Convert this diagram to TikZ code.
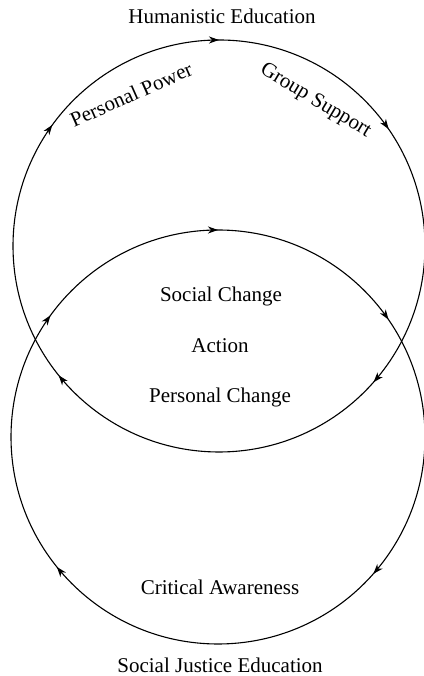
\documentclass[tikz,border=0pt]{standalone}
\usepackage{fontspec}
\setmainfont{Liberation Serif}
\usetikzlibrary{arrows.meta,decorations.markings}
\begin{document}
\begin{tikzpicture}[x=1pt,y=1pt,
  cyctip/.tip={Stealth[length=10pt,width=7pt,inset=3pt]},
  cyclepath/.style={line width=1.1pt, postaction={decorate},
    decoration={markings,
      mark=at position 0.100 with {\arrow{cyctip}},
      mark=at position 0.250 with {\arrow{cyctip}},
      mark=at position 0.404 with {\arrow{cyctip}},
      mark=at position 0.615 with {\arrow{cyctip}},
      mark=at position 0.892 with {\arrow{cyctip}}}},
  lbl/.style={font=\fontsize{21}{25}\selectfont, inner sep=0pt, anchor=base}]
\useasboundingbox (0,0) rectangle (423,676);
% circle centres
\coordinate (hum) at (219,430);
\coordinate (sje) at (218,239);
% the two clockwise cycles
\draw[cyclepath] ([shift={(180:206)}]hum) arc[start angle=180, end angle=-180, radius=206];
\draw[cyclepath] ([shift={(180:207)}]sje) arc[start angle=180, end angle=-180, radius=207];
% titles
\node[lbl] (humtitle) at (222,652) {Humanistic Education};
\node[lbl] (sjetitle) at (220,4) {Social Justice Education};
% labels on the upper cycle
\node[lbl, rotate=24] (power) at (134,575) {Personal Power};
\node[lbl, rotate=-31] (support) at (313,571) {Group Support};
% labels in the overlap
\node[lbl] (social) at (221,374) {Social Change};
\node[lbl] (action) at (220,323) {Action};
\node[lbl] (personal) at (220,273) {Personal Change};
% label on the lower cycle
\node[lbl] (aware) at (220,81) {Critical Awareness};
\end{tikzpicture}
\end{document}
